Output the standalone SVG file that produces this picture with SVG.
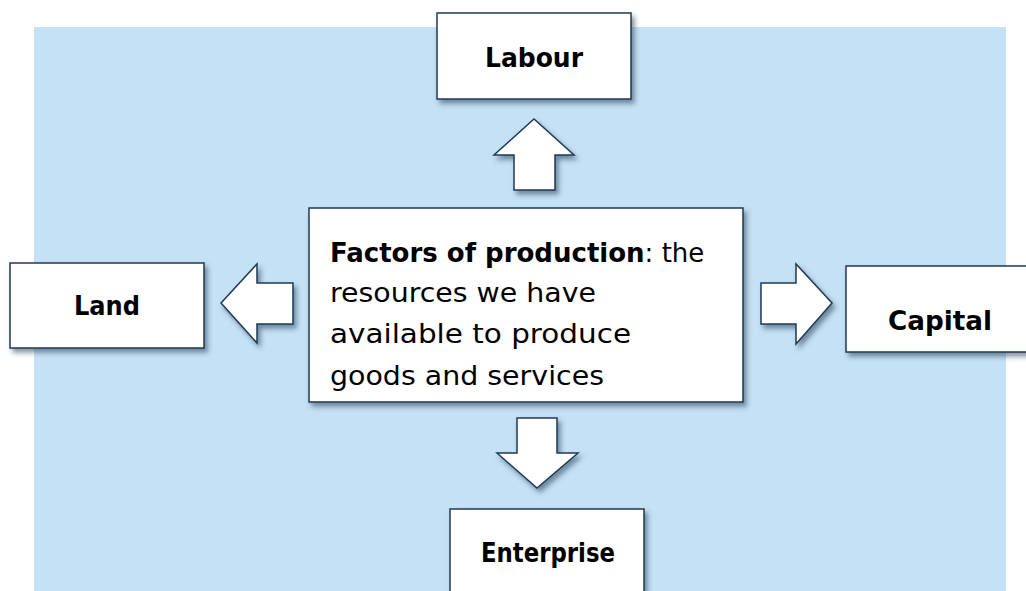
<svg xmlns="http://www.w3.org/2000/svg" width="1026" height="591" viewBox="0 0 1026 591">
  <style>
    .box { fill: #ffffff; stroke: #1f3a55; stroke-width: 1.5; filter: url(#sh); }
    .arr { fill: #ffffff; stroke: #1f3a55; stroke-width: 1.5; stroke-linejoin: miter; filter: url(#sh); }
    .lbl { font-family: "DejaVu Sans", "Liberation Sans", sans-serif; font-weight: bold; font-size: 26px; fill: #000; text-anchor: middle; }
    .body { font-family: "DejaVu Sans", "Liberation Sans", sans-serif; font-size: 26px; fill: #000; }
  </style>
  <defs>
    <filter id="sh" x="-20%" y="-20%" width="140%" height="140%">
      <feDropShadow dx="3" dy="4" stdDeviation="2.5" flood-color="#2a3f55" flood-opacity="0.55"/>
    </filter>
  </defs>
  <rect x="0" y="0" width="1026" height="591" fill="#ffffff"/>
  <rect x="34" y="27" width="972" height="564" fill="#c5e1f5"/>

  <g id="connectors">
    <polygon class="arr" points="534,119 574,155 555,155 555,190 514,190 514,155 494,155"/>
    <polygon class="arr" points="221,303 257,264 257,283 293,283 293,324 257,324 257,343"/>
    <polygon class="arr" points="832,303 796,264 796,283 761,283 761,324 796,324 796,344"/>
    <polygon class="arr" points="537,488 578,453 557,453 557,418 517,418 517,453 497,453"/>
  </g>

  <g id="center">
    <rect class="box" x="309" y="208" width="434" height="194"/>
    <text class="body" x="330" y="262" font-size="25.3"><tspan font-weight="bold">Factors of production</tspan>: the</text>
    <text class="body" x="330" y="302" textLength="266" lengthAdjust="spacingAndGlyphs">resources we have</text>
    <text class="body" x="330" y="343" textLength="301" lengthAdjust="spacingAndGlyphs">available to produce</text>
    <text class="body" x="330" y="385" textLength="274" lengthAdjust="spacingAndGlyphs">goods and services</text>
  </g>

  <g id="labour">
    <rect class="box" x="437" y="13" width="194" height="86"/>
    <text class="lbl" x="534" y="67" textLength="98" lengthAdjust="spacingAndGlyphs">Labour</text>
  </g>

  <g id="land">
    <rect class="box" x="10" y="263" width="194" height="85"/>
    <text class="lbl" x="107" y="315" textLength="66" lengthAdjust="spacingAndGlyphs">Land</text>
  </g>

  <g id="capital">
    <rect class="box" x="846" y="266" width="200" height="86"/>
    <text class="lbl" x="940" y="330" textLength="104" lengthAdjust="spacingAndGlyphs">Capital</text>
  </g>

  <g id="enterprise">
    <rect class="box" x="450" y="509" width="194" height="100"/>
    <text class="lbl" x="548" y="562" textLength="134" lengthAdjust="spacingAndGlyphs">Enterprise</text>
  </g>
</svg>
